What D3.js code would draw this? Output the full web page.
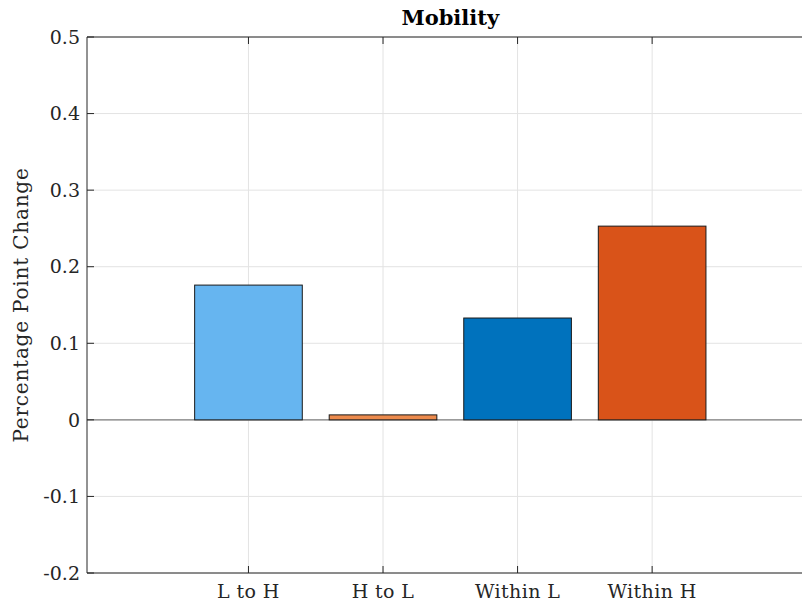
<!DOCTYPE html>
<html lang="en">
<head>
  <meta charset="UTF-8">
  <title>Mobility</title>
  <style>
    body { margin: 0; background: #fff; }
    svg { font-family: "DejaVu Serif", serif; }
    .grid line { stroke: #e3e3e3; stroke-width: 1; }
    .lbl { fill: #262626; font-size: 19px; }
  </style>
</head>
<body>
  <div id="chart"></div>
  <script src="https://d3js.org/d3.v7.min.js"></script>
  <script>
    // data
    const categories = ['L to H', 'H to L', 'Within L', 'Within H'];
    const values = [0.176, 0.0065, 0.133, 0.253];
    const colors = ['#66b5f0', '#ec8a4c', '#0072bd', '#d95319'];
    const yTicks = [-0.2, -0.1, 0, 0.1, 0.2, 0.3, 0.4, 0.5];
    const yTickLabels = ['-0.2', '-0.1', '0', '0.1', '0.2', '0.3', '0.4', '0.5'];

    const W = 802, H = 605;
    const axLeft = 87, axTop = 37, axBottom = 573;
    const axRight = 813.6; // axes box runs past the picture edge

    // categories sit at 1..4, limits -0.2 .. 5.2
    const x = d3.scaleLinear().domain([-0.2, 5.2]).range([axLeft, axRight]);
    const y = d3.scaleLinear().domain([-0.2, 0.5]).range([axBottom, axTop]);
    const barW = 0.8;

    const svg = d3.select('#chart').append('svg')
      .attr('width', W)
      .attr('height', H);

    // grid
    const grid = svg.append('g').attr('class', 'grid');
    grid.selectAll('line.gy')
      .data(yTicks)
      .enter().append('line')
      .attr('x1', axLeft).attr('x2', axRight)
      .attr('y1', d => y(d)).attr('y2', d => y(d));
    grid.selectAll('line.gx')
      .data(categories)
      .enter().append('line')
      .attr('x1', (d, i) => x(i + 1)).attr('x2', (d, i) => x(i + 1))
      .attr('y1', axTop).attr('y2', axBottom);

    // baseline at zero
    svg.append('line')
      .attr('x1', axLeft).attr('x2', axRight)
      .attr('y1', y(0)).attr('y2', y(0))
      .attr('stroke', '#808080').attr('stroke-width', 1.2);

    // bars
    svg.selectAll('rect.bar')
      .data(values)
      .enter().append('rect')
      .attr('class', 'bar')
      .attr('x', (d, i) => x(i + 1 - barW / 2))
      .attr('width', x(barW) - x(0))
      .attr('y', d => y(Math.max(0, d)))
      .attr('height', d => Math.abs(y(d) - y(0)))
      .attr('fill', (d, i) => colors[i])
      .attr('stroke', '#1a1a1a')
      .attr('stroke-width', 1);

    // axes box
    const axc = '#262626';
    svg.append('line').attr('x1', axLeft).attr('x2', axLeft).attr('y1', axTop).attr('y2', axBottom)
      .attr('stroke', axc).attr('stroke-width', 1);
    svg.append('line').attr('x1', axLeft).attr('x2', axRight).attr('y1', axTop).attr('y2', axTop)
      .attr('stroke', axc).attr('stroke-width', 1);
    svg.append('line').attr('x1', axLeft).attr('x2', axRight).attr('y1', axBottom).attr('y2', axBottom)
      .attr('stroke', axc).attr('stroke-width', 1);

    // y ticks (inward) + labels
    const tl = 7;
    svg.selectAll('line.yt')
      .data(yTicks)
      .enter().append('line')
      .attr('x1', axLeft).attr('x2', axLeft + tl)
      .attr('y1', d => y(d)).attr('y2', d => y(d))
      .attr('stroke', axc);
    svg.selectAll('text.yl')
      .data(yTicks)
      .enter().append('text')
      .attr('class', 'lbl')
      .attr('x', axLeft - 7)
      .attr('y', d => y(d))
      .attr('dy', '0.35em')
      .attr('text-anchor', 'end')
      .text((d, i) => yTickLabels[i]);

    // x ticks top and bottom + labels
    categories.forEach((c, i) => {
      const cx = x(i + 1);
      svg.append('line').attr('x1', cx).attr('x2', cx).attr('y1', axBottom).attr('y2', axBottom - tl).attr('stroke', axc);
      svg.append('line').attr('x1', cx).attr('x2', cx).attr('y1', axTop).attr('y2', axTop + tl).attr('stroke', axc);
      svg.append('text')
        .attr('class', 'lbl')
        .attr('x', cx)
        .attr('y', 598)
        .attr('text-anchor', 'middle')
        .style('letter-spacing', '0.4px')
        .text(c);
    });

    // y label
    svg.append('text')
      .attr('class', 'lbl')
      .attr('transform', `translate(28,${(axTop + axBottom) / 2}) rotate(-90)`)
      .attr('text-anchor', 'middle')
      .style('font-size', '20px')
      .style('letter-spacing', '0.8px')
      .text('Percentage Point Change');

    // title
    svg.append('text')
      .attr('x', (axLeft + axRight) / 2)
      .attr('y', 25)
      .attr('text-anchor', 'middle')
      .style('font-size', '21px')
      .style('font-weight', 'bold')
      .attr('fill', '#000')
      .text('Mobility');
  </script>
</body>
</html>
